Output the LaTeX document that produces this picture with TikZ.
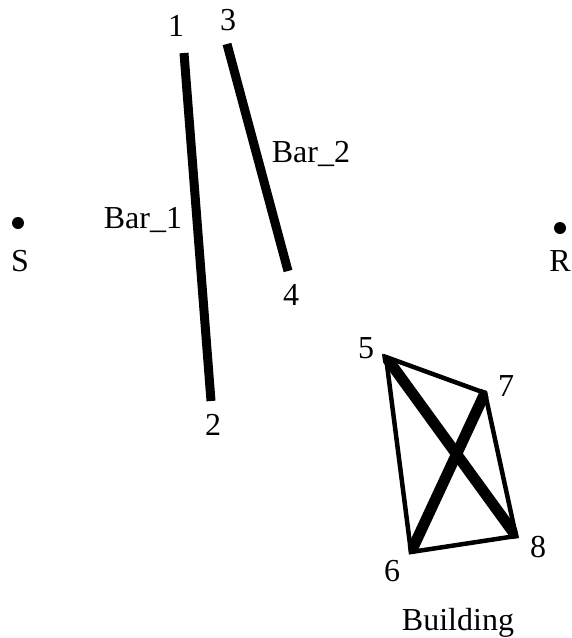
\documentclass[tikz,border=0pt]{standalone}
\usepackage{fontspec}
\usetikzlibrary{calc}
\setmainfont{Liberation Serif}
\tikzset{
  thickbar/.style={line width=9pt},
  brace/.style={line width=11pt},
  wall/.style={line width=4.5pt},
  lbl/.style={inner sep=0pt,font=\fontsize{32}{34}\selectfont,text=black},
  dot/.style={circle,fill=black,inner sep=0pt,minimum size=12pt}
}
\begin{document}
\begin{tikzpicture}[x=1pt,y=-1pt]
\path[use as bounding box,fill=white] (0,0) rectangle (571,638);
\begin{scope}
\clip (0,0) rectangle (571,638);
\coordinate (p1) at (184,53);
\coordinate (p2) at (211,401);
\coordinate (p3) at (227,44);
\coordinate (p4) at (288,271);
\coordinate (p5) at (386,357);
\coordinate (p6) at (411,552);
\coordinate (p7) at (485,393);
\coordinate (p8) at (516,536);
\coordinate (c5) at (382,354);
\coordinate (c6) at (409,554);
\coordinate (c7) at (487,391);
\coordinate (c8) at (519,538);
\draw[thickbar] (p1) -- (p2);
\draw[thickbar] (p3) -- (p4);
\begin{scope}
\clip (c5) -- (c7) -- (c8) -- (c6) -- cycle;
\draw[brace] ($(p5)!-8pt!(p8)$) -- ($(p8)!-8pt!(p5)$);
\draw[brace] ($(p6)!-8pt!(p7)$) -- ($(p7)!-8pt!(p6)$);
\end{scope}
\draw[wall] (p5) -- (p7) -- (p8) -- (p6) -- cycle;
\node[dot] (s) at (18,223) {};
\node[dot] (r) at (560,228) {};
\node[lbl] (ls) at (20,261) {S};
\node[lbl] (lr) at (560,261) {R};
\node[lbl] (l1) at (176,26) {1};
\node[lbl] (l3) at (228,20) {3};
\node[lbl] (l2) at (213,425) {2};
\node[lbl] (l4) at (291,295) {4};
\node[lbl] (l5) at (366,348) {5};
\node[lbl] (l7) at (506,386) {7};
\node[lbl] (l6) at (392,571) {6};
\node[lbl] (l8) at (538,547) {8};
\node[lbl,anchor=base] (b1) at (143,228) {Bar\_1};
\node[lbl,anchor=base] (b2) at (311,162) {Bar\_2};
\node[lbl,anchor=base] (bd) at (458,630) {Building};
\end{scope}
\end{tikzpicture}
\end{document}
